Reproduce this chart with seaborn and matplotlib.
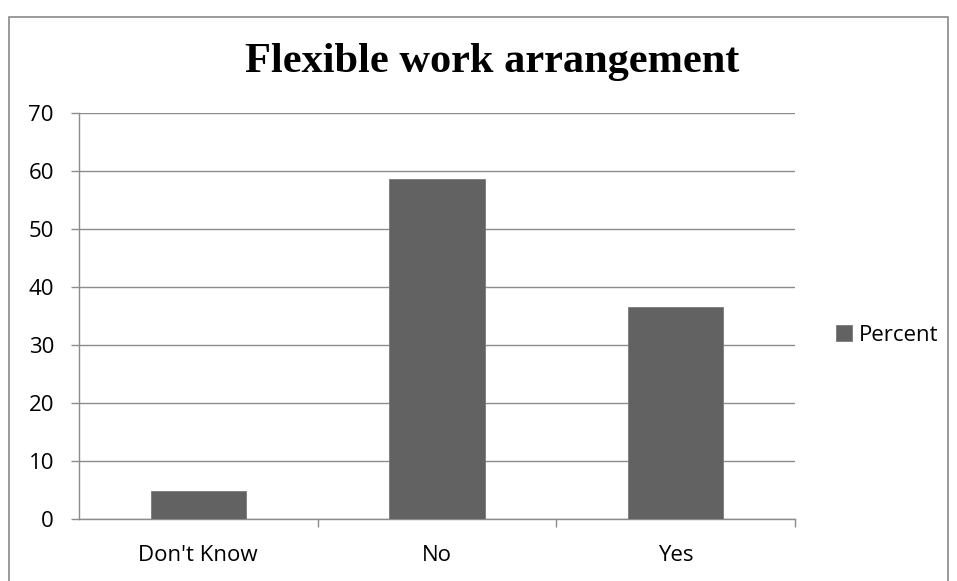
import numpy as np
import pandas as pd
import matplotlib
matplotlib.use("Agg")
import matplotlib.pyplot as plt
import seaborn as sns
from matplotlib.patches import Rectangle

sns.set_theme(style="white")
plt.rcParams['font.family'] = ['Open Sans', 'DejaVu Sans']
plt.rcParams['text.color'] = 'black'

# data
categories = ["Don't Know", "No", "Yes"]
percent = [4.9, 58.6, 36.5]
y_ticks = [0, 10, 20, 30, 40, 50, 60, 70]

bar_color = "#626262"
grid_color = "#8c8c8c"

df = pd.DataFrame({"answer": categories, "Percent": percent})

fig = plt.figure(figsize=(9.57, 5.81), dpi=100)
ax = fig.add_axes([0.0825, 0.1067, 0.748, 0.6988])

sns.barplot(data=df, x="answer", y="Percent", color=bar_color,
            width=0.4, saturation=1, label="Percent", ax=ax,
            edgecolor="#7a7a7a", linewidth=0.6, zorder=3)

ax.set_xlim(-0.5, 2.5)
ax.set_ylim(0, 70)
ax.set_yticks(y_ticks)
ax.set_xlabel("")
ax.set_ylabel("")

# horizontal gridlines, Excel style
ax.yaxis.grid(True, color=grid_color, linewidth=1.0, zorder=0)
ax.xaxis.grid(False)
for side in ["top", "right"]:
    ax.spines[side].set_visible(False)
for side in ["left", "bottom"]:
    ax.spines[side].set_color(grid_color)
    ax.spines[side].set_linewidth(1.0)

# category boundary ticks on x, labels centred
ax.set_xticks([0.5, 1.5, 2.5], minor=True)
ax.tick_params(axis="x", which="major", length=0, pad=19, labelsize=16, colors="black")
ax.tick_params(axis="x", which="minor", length=6, width=1.0, color=grid_color,
               direction="out", bottom=True)
ax.tick_params(axis="y", which="major", length=6, width=1.0, color=grid_color,
               direction="out", left=True, pad=12, labelsize=16, colors="black")

fig.text(0.514, 0.893, "Flexible work arrangement", ha="center", va="center",
         fontsize=30.5, fontweight="bold", family="Liberation Serif", color="black")

ax.legend(loc="center left", bbox_to_anchor=(0.874, 0.423), bbox_transform=fig.transFigure,
          frameon=False, fontsize=16, handlelength=0.72, handleheight=0.72,
          handletextpad=0.3, borderaxespad=0, borderpad=0)

# chart area border
fig.patches.append(Rectangle((0.0095, -0.02), 0.981, 0.99, transform=fig.transFigure,
                             fill=False, edgecolor="#8a8a8a", linewidth=1.2))

fig.savefig("out.png", dpi=100)
